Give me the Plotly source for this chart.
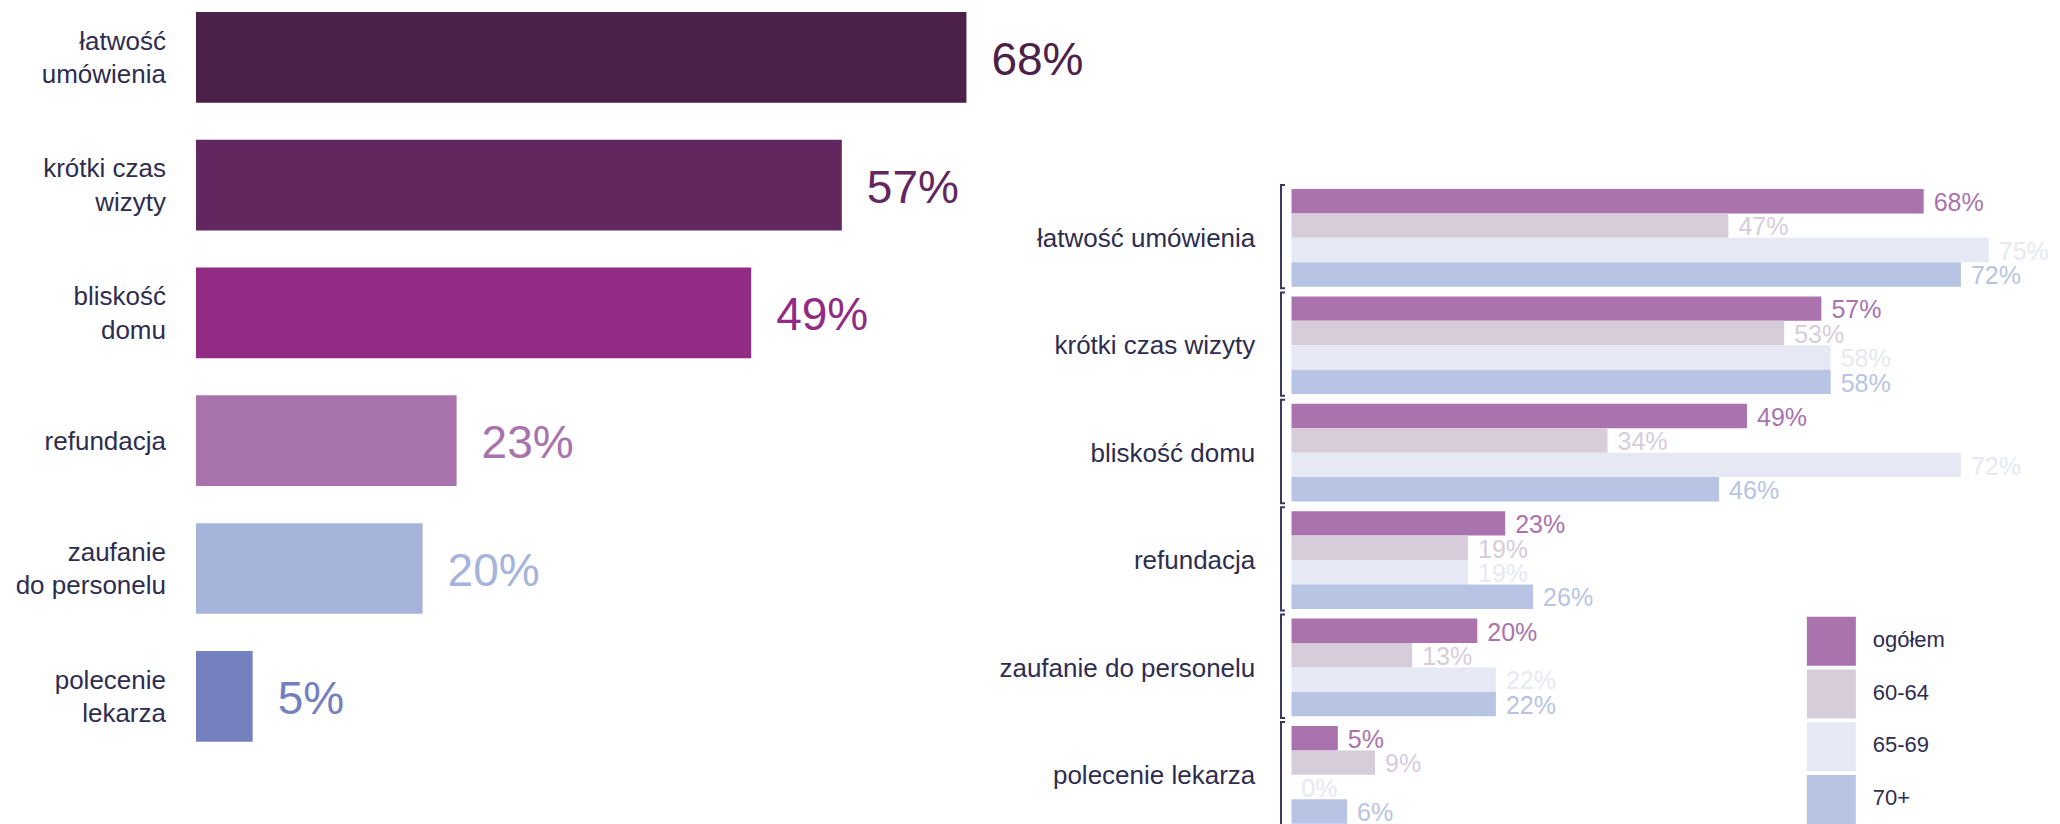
import plotly.graph_objects as go

# page body has an 8px margin: figure is drawn 8px smaller and offset
OFF = 8
W, H = 2060 - OFF, 824 - OFF

# ---------------- data ----------------
left_labels = ["łatwość<br>umówienia", "krótki czas<br>wizyty", "bliskość<br>domu",
               "refundacja", "zaufanie<br>do personelu", "polecenie<br>lekarza"]
left_values = [68, 57, 49, 23, 20, 5]
left_colors = ["#4B2149", "#62275F", "#922B83", "#A873AD", "#A6B4DB", "#7580BE"]

right_labels = ["łatwość umówienia", "krótki czas wizyty", "bliskość domu",
                "refundacja", "zaufanie do personelu", "polecenie lekarza"]
series_names = ["ogółem", "60-64", "65-69", "70+"]
values_ogolem = [68, 57, 49, 23, 20, 5]
values_60_64 = [47, 53, 34, 19, 13, 9]
values_65_69 = [75, 58, 72, 19, 22, 0]
values_70_plus = [72, 58, 46, 26, 22, 6]
series_values = [values_ogolem, values_60_64, values_65_69, values_70_plus]
series_colors = ["#AA73AD", "#D7CCDA", "#E6E8F4", "#B8C4E4"]

TEXT_COLOR = "#2E2D4F"
FONT = "Liberation Sans, Arial, sans-serif"


def px(xr):
    """reference-page x pixel -> paper fraction"""
    return (xr - OFF) / W


def yrange(center0_ref, pitch):
    top = -(center0_ref - OFF) / pitch
    return [top + H / pitch, top]


fig = go.Figure()

# ---------------- left chart ----------------
L_PITCH = 127.8
idx_left = list(range(len(left_labels)))
fig.add_trace(go.Bar(
    x=left_values, y=idx_left, orientation="h", width=0.71,
    marker=dict(color=left_colors, line=dict(width=0)),
    xaxis="x", yaxis="y", showlegend=False, hoverinfo="skip"))
L_PX = 11.33  # px per percent
fig.add_trace(go.Scatter(
    x=[v + 25 / L_PX for v in left_values], y=[i + 6 / L_PITCH for i in idx_left], mode="text",
    text=[f"{v}%" for v in left_values], textposition="middle right",
    textfont=dict(size=46, color=left_colors, family=FONT),
    xaxis="x", yaxis="y", showlegend=False, hoverinfo="skip", cliponaxis=False))

# ---------------- right chart ----------------
R_PITCH = 107.4
idx_right = list(range(len(right_labels)))
BARGAP = 0.09
bw = (1 - BARGAP) / len(series_names)
R_PX = 9.3
for j, (name, vals, col) in enumerate(zip(series_names, series_values, series_colors)):
    fig.add_trace(go.Bar(
        x=vals, y=idx_right, orientation="h", name=name,
        marker=dict(color=col, line=dict(width=0)),
        xaxis="x2", yaxis="y2", showlegend=False, hoverinfo="skip"))
for j, (name, vals, col) in enumerate(zip(series_names, series_values, series_colors)):
    fig.add_trace(go.Scatter(
        x=[v + 10 / R_PX for v in vals],
        y=[i - (1 - BARGAP) / 2 + (j + 0.5) * bw + 3.5 / R_PITCH for i in idx_right],
        mode="text", text=[f"{v}%" for v in vals], textposition="middle right",
        textfont=dict(size=25, color=col, family=FONT),
        xaxis="x2", yaxis="y2", showlegend=False, hoverinfo="skip", cliponaxis=False))

# legend as squares + labels
leg_idx = list(range(len(series_names)))
fig.add_trace(go.Scatter(
    x=[24.35] * len(series_names), y=leg_idx, mode="markers",
    marker=dict(symbol="square", size=49, color=series_colors, line=dict(width=0)),
    xaxis="x3", yaxis="y3", showlegend=False, hoverinfo="skip", cliponaxis=False))
fig.add_trace(go.Scatter(
    x=[65.7] * len(series_names), y=leg_idx, mode="text", text=series_names,
    textposition="middle right", textfont=dict(size=22, color=TEXT_COLOR, family=FONT),
    xaxis="x3", yaxis="y3", showlegend=False, hoverinfo="skip", cliponaxis=False))

# brackets on right chart
xb = px(1281)
serif = 4 / W
shapes = []
for i in idx_right:
    y0 = i - (1 - BARGAP) / 2 - 0.037
    y1 = i + (1 - BARGAP) / 2 + 0.015
    shapes.append(dict(
        type="path", xref="paper", yref="y2",
        path=f"M {xb + serif},{y0} L {xb},{y0} L {xb},{y1} L {xb + serif},{y1}",
        line=dict(color="#3B3A5E", width=2)))

# ---------------- layout ----------------
L0, L1 = 196, 1100
R0 = 1291.3
LEG0 = 1807

axis_common = dict(showgrid=False, zeroline=False, showline=False, ticks="", fixedrange=True)

fig.update_layout(
    width=W, height=H,
    margin=dict(l=0, r=0, t=0, b=0),
    paper_bgcolor="white", plot_bgcolor="rgba(0,0,0,0)",
    barmode="group", bargap=BARGAP, bargroupgap=0,
    font=dict(family=FONT, color=TEXT_COLOR),
    shapes=shapes,
    xaxis=dict(domain=[px(L0), px(L1)], range=[0, (L1 - L0) / L_PX], showticklabels=False, **axis_common),
    yaxis=dict(domain=[0, 1], anchor="x", range=yrange(57.3, L_PITCH), tickvals=idx_left, ticktext=left_labels,
               tickfont=dict(size=26, color=TEXT_COLOR, family=FONT), ticklabelstandoff=29, **axis_common),
    xaxis2=dict(domain=[px(R0), 1.0], anchor="y2", range=[0, (2060 - R0) / R_PX], showticklabels=False, **axis_common),
    yaxis2=dict(domain=[0, 1], anchor="x2", range=yrange(237.85, R_PITCH), tickvals=idx_right, ticktext=right_labels,
                tickfont=dict(size=26, color=TEXT_COLOR, family=FONT), ticklabelstandoff=35, **axis_common),
    xaxis3=dict(domain=[px(LEG0), 1.0], anchor="y3", range=[0, 2060 - LEG0], showticklabels=False, **axis_common),
    yaxis3=dict(domain=[0, 1], anchor="x3", range=yrange(641.3, 52.7), showticklabels=False, **axis_common),
)

fig.write_html("out.html")
